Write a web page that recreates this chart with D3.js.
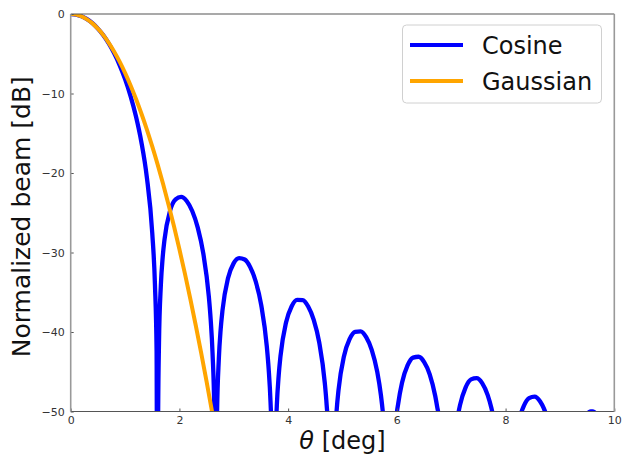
<!DOCTYPE html>
<html>
<head>
<meta charset="utf-8">
<script src="https://cdn.jsdelivr.net/npm/d3@7"></script>
<style>
  html, body { margin: 0; padding: 0; background: #fff; }
  svg { display: block; }
  text { font-family: "DejaVu Sans", sans-serif; }
</style>
</head>
<body>
<svg id="chart" width="623" height="456"></svg>
<script>
// ---- Data ----
const seriesNames = ["Cosine", "Gaussian"];
const seriesColors = ["#0000ff", "#ffa500"];

const xTicks = [0, 2, 4, 6, 8, 10];
const yTicks = [0, -10, -20, -30, -40, -50];

// Cosine-taper beam: theta [deg] and normalized level [dB]
const cosineTheta = [
  0, 0.1, 0.2, 0.3, 0.4, 0.5, 0.6, 0.7, 0.8, 0.9, 1.0, 1.1, 1.2, 1.3, 1.4, 1.5, 1.55, 1.58, 1.6,
  1.6072, 1.6242, 1.6581, 1.6921, 1.726, 1.8279, 1.9298, 2.0316, 2.1335, 2.2354, 2.3373, 2.4391, 2.541, 2.5749, 2.6089, 2.6429, 2.6669,
  2.6909, 2.7249, 2.7588, 2.7928, 2.8947, 2.9965, 3.0984, 3.2003, 3.3021, 3.404, 3.5059, 3.6077, 3.6417, 3.6757, 3.7096, 3.7337,
  3.7577, 3.7916, 3.8256, 3.8596, 3.9614, 4.0633, 4.1652, 4.267, 4.3689, 4.4708, 4.5726, 4.6745, 4.7085, 4.7424, 4.8004,
  4.8584, 4.8923, 4.9263, 5.0282, 5.13, 5.2319, 5.3338, 5.4357, 5.5375, 5.6394, 5.7073, 5.7413, 5.7752, 5.8672,
  5.9931, 6.027, 6.0949, 6.1968, 6.2987, 6.4005, 6.5024, 6.6043, 6.7061, 6.7401, 6.7741, 6.9339,
  7.0938, 7.1277, 7.1617, 7.2636, 7.3654, 7.4673, 7.5692, 7.671, 7.7389, 7.7729, 7.8069, 8.0007,
  8.2624, 8.2964, 8.3303, 8.4322, 8.5341, 8.6359, 8.7038, 8.7378, 8.8057, 9.0674,
  9.499, 9.5329, 9.5669, 9.6008, 9.6348, 9.7027, 10.0
];
const cosineDb = [
  0, -0.07, -0.29, -0.65, -1.16, -1.84, -2.68, -3.71, -4.95, -6.42, -8.18, -10.29, -12.86, -16.11, -20.5, -27.52, -34.08, -42.36, -100,
  -51.79, -41.36, -34.15, -30.6, -28.35, -24.75, -23.32, -23.01, -23.52, -24.78, -26.87, -30.11, -35.54, -38.42, -42.6, -50.45, -100,
  -50.77, -43.39, -39.67, -37.25, -33.21, -31.37, -30.7, -30.88, -31.84, -33.65, -36.64, -41.83, -44.64, -48.74, -56.52, -100,
  -56.75, -49.29, -45.51, -43.03, -38.8, -36.79, -35.96, -35.99, -36.8, -38.48, -41.34, -46.41, -49.18, -53.24, -100,
  -53.67, -49.85, -47.33, -43.01, -40.9, -39.97, -39.91, -40.64, -42.24, -45.02, -47.97, -50.02, -52.76, -100,
  -50.77, -48.92, -46.38, -44.21, -43.22, -43.11, -43.78, -45.32, -48.05, -49.36, -50.97, -100,
  -51.77, -50.34, -49.2, -46.99, -45.96, -45.8, -46.43, -47.94, -49.56, -50.63, -51.92, -100,
  -50.71, -49.97, -49.38, -48.32, -48.13, -48.74, -49.61, -50.21, -51.82, -100,
  -50.3, -50.1, -49.98, -49.98, -50.1, -50.6, -59.17
];

// Gaussian beam
const gaussianTheta = [0, 0.1, 0.2, 0.3, 0.4, 0.5, 0.6, 0.7, 0.8, 0.9, 1.0, 1.1, 1.2, 1.3,
  1.4, 1.5, 1.6, 1.7, 1.8, 1.9, 2.0, 2.1, 2.2, 2.3, 2.4, 2.5, 2.6, 2.7];
const gaussianDb = [0, -0.07, -0.3, -0.67, -1.18, -1.85, -2.66, -3.63, -4.74, -5.99, -7.4, -8.95,
  -10.66, -12.51, -14.5, -16.65, -18.94, -21.39, -23.98, -26.71, -29.6, -32.63, -35.82, -39.15,
  -42.62, -46.25, -50.02, -53.95];

// ---- Layout ----
const svg = d3.select("#chart");
const L = 70.7, R = 614.3, T = 14, B = 411.5;

const x = d3.scaleLinear().domain([0, 10]).range([L, R]);
const y = d3.scaleLinear().domain([-50, 0]).range([B, T]);

svg.append("defs").append("clipPath").attr("id", "plotclip")
  .append("rect").attr("x", L).attr("y", T).attr("width", R - L).attr("height", B - T);

const series = [
  { name: seriesNames[0], color: seriesColors[0], width: 4.3, pts: cosineTheta.map((t, i) => [t, cosineDb[i]]) },
  { name: seriesNames[1], color: seriesColors[1], width: 4, pts: gaussianTheta.map((t, i) => [t, gaussianDb[i]]) }
];

const line = d3.line()
  .x(d => x(d[0]))
  .y(d => y(d[1]))
  .curve(d3.curveMonotoneX);

const plot = svg.append("g").attr("clip-path", "url(#plotclip)");
series.forEach(s => {
  plot.append("path")
    .datum(s.pts)
    .attr("d", line)
    .attr("fill", "none")
    .attr("stroke", s.color)
    .attr("stroke-width", s.width)
    .attr("stroke-linejoin", "round")
    .attr("stroke-linecap", "butt");
});

// ---- Axes ----
const xAxis = d3.axisBottom(x).tickValues(xTicks).tickFormat(d3.format("d"))
  .tickSize(-3).tickPadding(5);
const yAxis = d3.axisLeft(y).tickValues(yTicks).tickFormat(d3.format("d"))
  .tickSize(-3).tickPadding(6);

const gx = svg.append("g").attr("transform", `translate(0,${B})`).call(xAxis);
const gy = svg.append("g").attr("transform", `translate(${L},0)`).call(yAxis);
[gx, gy].forEach(g => {
  g.select(".domain").remove();
  g.selectAll(".tick line").attr("stroke", "#555").attr("stroke-width", 1);
  g.selectAll(".tick text")
    .attr("fill", "#333")
    .style("font-family", "'DejaVu Sans', sans-serif")
    .style("font-size", "11px");
});

// Spines
const spine = svg.append("g");
spine.append("line").attr("x1", L).attr("x2", R).attr("y1", T).attr("y2", T)
  .attr("stroke", "#555").attr("stroke-width", 1.2);
spine.append("line").attr("x1", L).attr("x2", R).attr("y1", B).attr("y2", B)
  .attr("stroke", "#555").attr("stroke-width", 1.2);
spine.append("line").attr("x1", L).attr("x2", L).attr("y1", T).attr("y2", B)
  .attr("stroke", "#999").attr("stroke-width", 1.6);
spine.append("line").attr("x1", R).attr("x2", R).attr("y1", T).attr("y2", B)
  .attr("stroke", "#999").attr("stroke-width", 1.6);

// Axis labels
svg.append("text")
  .attr("transform", `translate(30,${(T + B) / 2 + 4}) rotate(-90)`)
  .attr("text-anchor", "middle")
  .attr("fill", "#111")
  .style("font-size", "25px")
  .text("Normalized beam [dB]");

const xl = svg.append("text")
  .attr("x", (L + R) / 2)
  .attr("y", 449)
  .attr("text-anchor", "middle")
  .attr("fill", "#111")
  .style("font-size", "24px");
xl.append("tspan").style("font-style", "italic").text("θ");
xl.append("tspan").text(" [deg]");

// Legend
const lg = svg.append("g");
lg.append("rect")
  .attr("x", 402.5).attr("y", 25).attr("width", 199).attr("height", 78)
  .attr("rx", 4).attr("ry", 4)
  .attr("fill", "#fff").attr("fill-opacity", 0.85)
  .attr("stroke", "#d0d0d0").attr("stroke-width", 1);
series.forEach((s, i) => {
  const ly = 45 + i * 36;
  lg.append("line")
    .attr("x1", 410).attr("x2", 463).attr("y1", ly).attr("y2", ly)
    .attr("stroke", s.color).attr("stroke-width", 4);
  lg.append("text")
    .attr("x", 482).attr("y", ly + 9)
    .attr("fill", "#111")
    .style("font-size", "24px")
    .text(s.name);
});
</script>
</body>
</html>
